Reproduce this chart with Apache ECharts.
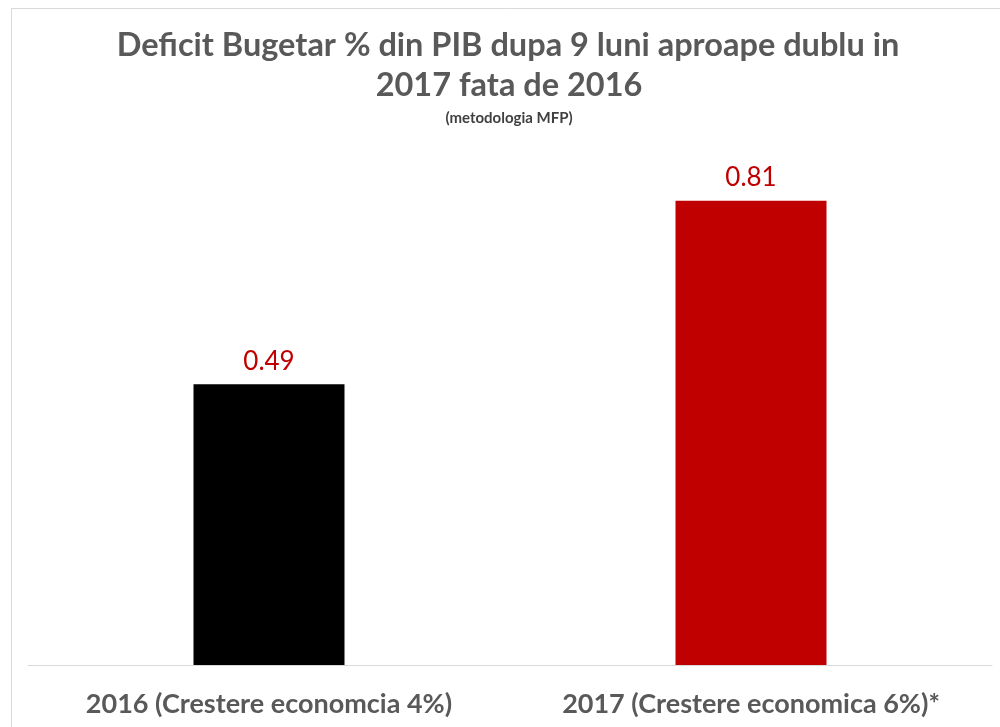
<!DOCTYPE html>
<html><head><meta charset="utf-8">
<script src="https://cdn.jsdelivr.net/npm/echarts@6/dist/echarts.min.js"></script>
<style>html,body{margin:0;padding:0;background:#fff}#c{width:1000px;height:727px}</style>
</head><body><div id="c"></div>
<script>
const categories = ['2016 (Crestere economcia 4%)', '2017 (Crestere economica 6%)*'];
const values = [0.49, 0.81];
const barColors = ['#000000', '#C00000'];
const titleLines = ['Deficit Bugetar % din PIB dupa 9 luni aproape dublu in', '2017 fata de 2016'];
const subtitleText = '(metodologia MFP)';

const chart = echarts.init(document.getElementById('c'), null, {renderer: 'canvas'});
const font = 'Lato, "Open Sans", sans-serif';
chart.setOption({
  backgroundColor: '#fff',
  animation: false,
  graphic: [{
    type: 'rect', left: 9, top: 6, shape: {width: 1000, height: 740},
    style: {fill: 'none', stroke: '#d9d9d9', lineWidth: 1}, silent: true
  }, {
    type: 'text', x: 508, y: 46, silent: true,
    style: {text: titleLines[0], textAlign: 'center', textVerticalAlign: 'middle',
      font: 'bold 32.5px ' + font, fill: '#595959'}
  }, {
    type: 'text', x: 509, y: 86, silent: true,
    style: {text: titleLines[1], textAlign: 'center', textVerticalAlign: 'middle',
      font: 'bold 32.5px ' + font, fill: '#595959'}
  }, {
    type: 'text', x: 509, y: 118, silent: true,
    style: {text: subtitleText, textAlign: 'center', textVerticalAlign: 'middle',
      font: 'bold 15px ' + font, fill: '#404040'}
  }],
  grid: {left: 28, right: 8, top: 92, bottom: 62, containLabel: false},
  xAxis: {
    type: 'category', data: categories,
    axisLine: {show: true, lineStyle: {color: '#d9d9d9', width: 1}},
    axisTick: {show: false},
    axisLabel: {interval: 0, hideOverlap: false, fontFamily: font, fontWeight: 'bold', fontSize: 27, color: '#595959', margin: 26}
  },
  yAxis: {type: 'value', min: 0, max: 1, show: false, splitLine: {show: false}},
  series: [{
    type: 'bar', barWidth: 151,
    data: values.map((v, i) => ({value: v, itemStyle: {color: barColors[i]}})),
    label: {show: true, position: 'top', distance: 10, fontFamily: font, fontSize: 26, color: '#C00000'}
  }]
});
</script></body></html>
